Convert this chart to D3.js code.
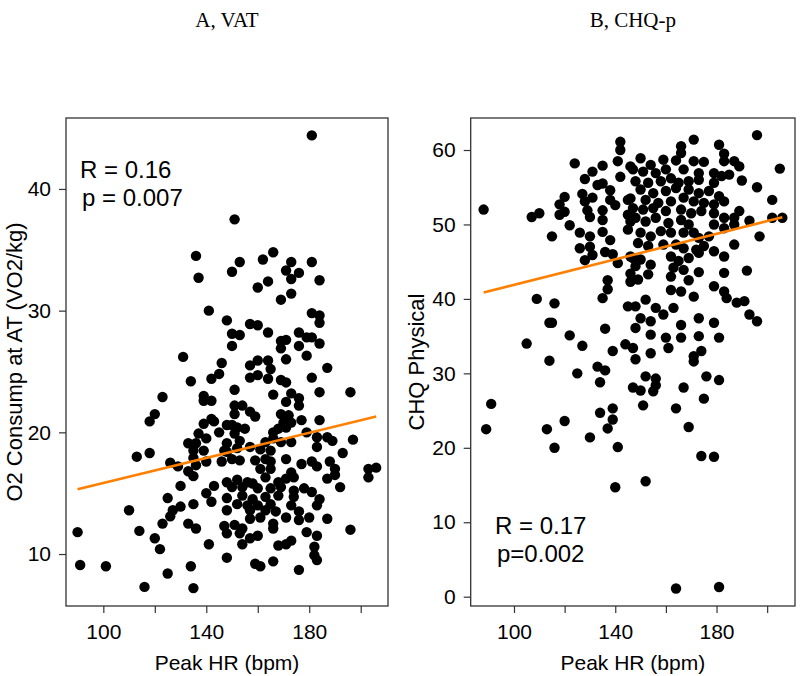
<!DOCTYPE html>
<html><head><meta charset="utf-8">
<script src="https://cdn.jsdelivr.net/npm/d3@7"></script>
<style>body{margin:0;background:#fff}svg{display:block}</style>
</head><body>
<svg id="c" width="800" height="676"></svg>
<script>
// ---------- data ----------
const xTicks = [100, 120, 140, 160, 180, 200];
const xTickLabels = [100, 140, 180];
const aYTicks = [10, 20, 30, 40];
const bYTicks = [0, 10, 20, 30, 40, 50, 60];

const titles = ["A, VAT", "B, CHQ-p"];
const xTitle = "Peak HR (bpm)";
const yTitles = ["O2 Consump at AT (VO2/kg)", "CHQ Physical"];
const statsA = ["R = 0.16", "p = 0.007"];
const statsB = ["R = 0.17", "p=0.002"];

// Panel A: peak HR vs O2 consumption at AT
const aHR = [181,151,136,137,150,153,162,166,160,164,173,171,176,173,181,184,173,169,141,181,184,184,148,157,160,150,153,150,164,176,179,181,184,169,171,169,176,179,131,160,164,171,146,145,142,134,123,139,139,142,120,118,142,139,143,148,137,140,145,133,136,113,118,135,139,148,147,126,129,135,136,140,146,133,135,148,130,143,140,142,125,148,135,130,127,126,110,123,133,136,147,148,114,90,120,122,141,148,91,101,125,134,116,135,
157,165,181,187,157,160,164,169,171,151,166,173,184,196,176,171,176,151,154,151,157,159,169,172,170,173,177,184,150,152,155,166,168,171,179,183,187,189,197,151,153,163,166,169,173,183,193,148,152,157,161,165,150,153,159,163,165,171,177,181,183,188,190,203,206,203,161,165,163,187,190,152,156,158,168,171,174,173,192,150,154,160,165,169,174,178,181,154,158,163,168,174,184,152,156,160,165,173,183,148,157,163,167,176,157,161,171,176,180,187,166,151,154,166,153,179,183,196,157,160,154,168,171,173,182,182,183,159,161,166,176];
const aVO2 = [44.4,37.5,34.5,32.7,33.2,34.0,34.2,34.8,31.9,32.4,34.0,33.3,33.1,32.6,34.0,32.5,31.4,30.9,30.0,29.8,29.6,29.0,29.2,28.9,28.8,28.1,28.0,27.1,28.2,28.2,27.8,27.8,27.3,27.5,27.6,26.9,27.1,26.3,26.2,25.9,25.9,26.0,25.7,24.8,24.4,24.2,22.9,23.0,22.6,22.6,21.5,20.9,21.1,20.7,20.9,20.6,19.9,19.5,20.0,19.1,19.1,18.0,18.3,18.5,18.5,19.1,18.5,17.5,17.2,17.9,17.3,17.6,17.6,16.8,16.4,15.9,15.6,15.6,15.0,14.3,14.6,14.6,14.1,13.9,13.6,13.1,13.6,12.5,12.5,12.1,12.3,11.7,11.9,11.8,11.3,10.4,10.8,9.7,9.1,9.0,8.4,9.0,7.3,7.2,
25.5,25.2,24.5,25.3,24.5,24.7,24.4,24.3,24.1,23.5,23.1,23.2,23.3,23.3,22.8,22.5,22.2,22.2,22.2,21.5,21.7,21.3,21.5,21.4,20.8,20.8,21.0,21.0,20.6,20.4,20.3,20.0,20.3,20.4,20.0,19.6,19.6,19.3,19.4,19.9,19.3,19.2,19.5,19.2,19.2,18.8,18.3,18.4,18.7,18.8,18.6,18.5,17.8,17.7,17.7,17.8,17.6,17.8,17.4,17.6,17.2,17.6,17.0,17.0,17.1,16.3,17.0,17.0,16.3,16.2,16.5,16.1,15.9,15.8,15.9,16.2,16.3,16.7,15.5,15.5,15.5,15.4,15.4,15.5,15.2,15.4,15.1,14.8,14.5,14.7,14.8,14.7,14.5,14.1,14.0,14.0,14.1,14.0,14.0,13.6,13.6,13.6,13.5,13.5,12.9,13.0,13.0,12.8,13.0,12.9,12.5,12.4,12.1,12.1,11.7,11.8,11.5,12.0,11.3,11.5,10.8,10.7,10.8,11.1,10.6,9.9,9.5,9.2,9.0,9.4,8.7];
const aFit = { intercept: 10.69, slope: 0.0515 };

// Panel B: peak HR vs CHQ physical
const bHR = [88,91,89,105,107,110,109,115,114,115,116,114,113,116,120,118,120,120,118,122,122,125,127,126,124,127,128,128,126,128,130,129,130,130,130,131,131,131,133,133,134,134,135,135,135,135,135,136,136,135,137,137,136,137,138,138,138,139,139,139,139,140,141,141,142,140,141,142,142,144,145,145,145,146,146,145,146,146,146,146,
147,151,152,150,152,155,156,156,164,164,167,169,175,174,176,179,181,181,148,171,
166,171,181,196,166,183,187,189,205,150,154,159,164,171,175,183,147,151,156,160,167,173,179,182,185,190,196,148,153,158,162,165,169,173,179,150,155,160,164,169,173,177,181,202,152,157,162,167,171,175,179,183,189,147,151,155,160,166,170,174,179,183,187,193,202,206,148,152,156,161,166,169,179,183,187,150,154,158,162,167,171,173,177,197,149,153,159,164,167,172,175,179,183,187,147,150,154,162,165,169,173,148,163,167,173,183,192,149,153,162,169,179,183,162,166,171,184,188,191,152,148,156,163,193,196,150,154,159,166,173,179,148,154,160,166,173,181,147,154,161,171,174];
const bCHQ = [52.0,25.9,22.5,34.0,51.0,51.5,40.0,48.4,36.8,36.8,39.4,31.7,22.5,20.0,23.6,52.7,53.7,51.7,51.3,49.9,35.1,30.0,33.7,48.9,58.2,54.1,56.1,53.1,46.8,45.2,21.4,51.9,51.0,48.4,47.0,45.9,57.1,53.6,55.3,30.9,28.8,24.7,57.9,55.5,51.9,50.6,49.0,46.3,36.0,40.1,41.3,42.5,30.4,22.6,54.6,53.3,47.9,46.0,33.0,25.3,23.8,14.7,20.1,58.5,56.4,52.6,44.8,60.0,61.1,33.9,53.3,51.3,39.0,53.5,50.4,49.3,45.7,43.4,42.3,57.8,
28.1,25.7,29.6,27.7,15.5,27.6,29.3,28.4,25.3,1.1,28.1,22.8,26.6,18.9,29.6,18.8,29.1,1.3,31.9,31.6,
60.5,61.4,60.7,62.0,59.6,59.5,58.5,57.8,57.5,58.9,58.0,58.7,58.6,58.5,58.4,58.5,57.4,57.1,56.9,57.4,57.4,56.9,56.9,56.5,56.7,55.9,55.0,55.8,55.6,55.8,56.2,55.6,55.8,56.0,55.6,54.7,54.2,54.5,54.9,54.7,54.2,54.5,53.8,53.3,53.3,52.9,53.1,53.6,53.1,52.9,52.7,53.1,51.8,52.2,52.0,52.2,51.8,52.0,51.5,51.8,51.5,50.9,50.9,50.5,50.9,50.9,50.9,50.4,50.9,50.2,50.6,50.0,50.0,49.5,50.0,48.9,48.4,49.1,48.9,48.9,48.9,48.2,48.4,48.4,47.5,47.1,47.3,47.3,46.8,46.6,47.1,46.4,45.7,47.3,45.5,45.3,44.6,45.7,45.1,45.5,46.2,44.4,44.2,43.9,43.6,43.5,43.8,42.6,43.3,43.0,42.5,41.7,41.0,41.2,41.0,40.3,40.1,39.5,39.7,39.9,39.0,38.8,38.8,37.9,37.0,37.4,37.0,37.9,36.5,37.4,36.8,36.1,35.2,34.8,34.8,35.0,34.8,33.4,32.7,33.4,32.3,33.0];
const bFit = { intercept: 33.33, slope: 0.0856 };

// ---------- drawing ----------
const svg = d3.select("#c");
const sans = "'Liberation Sans', Arial, sans-serif";
const serif = "'Liberation Serif', 'Times New Roman', serif";

function panel(cfg) {
  const x = d3.scaleLinear().domain(cfg.xd).range([cfg.l, cfg.r]);
  const y = d3.scaleLinear().domain(cfg.yd).range([cfg.b, cfg.t]);
  const g = svg.append("g");

  g.append("g").selectAll("circle")
    .data(d3.zip(cfg.xs, cfg.ys))
    .join("circle")
    .attr("cx", d => x(d[0])).attr("cy", d => y(d[1]))
    .attr("r", 5.2).attr("fill", "#000");

  const ext = d3.extent(cfg.xs);
  const line = d3.line().x(d => x(d)).y(d => y(cfg.fit.intercept + cfg.fit.slope * d));
  g.append("path").attr("d", line(ext))
    .attr("stroke", "#ff8000").attr("stroke-width", 2.6).attr("fill", "none");

  g.append("rect")
    .attr("x", cfg.l).attr("y", cfg.t)
    .attr("width", cfg.r - cfg.l).attr("height", cfg.b - cfg.t)
    .attr("fill", "none").attr("stroke", "#333").attr("stroke-width", 1.3);

  const xa = d3.axisBottom(x).tickValues(xTicks).tickSize(7).tickPadding(11)
    .tickFormat(d => xTickLabels.includes(d) ? d : "");
  const gx = g.append("g").attr("transform", `translate(0,${cfg.b})`).call(xa);
  gx.select(".domain").remove();
  gx.selectAll("line").attr("stroke", "#333").attr("stroke-width", 1.2);
  gx.selectAll("text").attr("font-family", sans).attr("font-size", 21).attr("fill", "#000");

  const ya = d3.axisLeft(y).tickValues(cfg.yTicks).tickSize(7).tickPadding(8);
  const gy = g.append("g").attr("transform", `translate(${cfg.l},0)`).call(ya);
  gy.select(".domain").remove();
  gy.selectAll("line").attr("stroke", "#333").attr("stroke-width", 1.2);
  gy.selectAll("text").attr("font-family", sans).attr("font-size", 21).attr("fill", "#000");

  g.append("text").attr("x", (cfg.l + cfg.r) / 2).attr("y", 670)
    .attr("text-anchor", "middle").attr("font-family", sans).attr("font-size", 21)
    .text(xTitle);

  g.append("text")
    .attr("transform", `translate(${cfg.yTitleX},${(cfg.t + cfg.b) / 2}) rotate(-90)`)
    .attr("text-anchor", "middle").attr("font-family", sans).attr("font-size", 22)
    .text(cfg.yTitle);

  g.append("text").attr("x", (cfg.l + cfg.r) / 2).attr("y", 27)
    .attr("text-anchor", "middle").attr("font-family", serif).attr("font-size", 21)
    .text(cfg.title);

  cfg.stats.forEach((s, i) => {
    g.append("text").attr("x", cfg.statX[i]).attr("y", cfg.statY[i])
      .attr("font-family", sans).attr("font-size", 24).text(s);
  });
}

panel({
  l: 66, r: 388, t: 118, b: 606,
  xd: [85.5, 210.6], yd: [5.73, 45.83],
  xs: aHR, ys: aVO2, fit: aFit, yTicks: aYTicks,
  yTitle: yTitles[0], yTitleX: 22, title: titles[0],
  stats: statsA, statX: [80, 82], statY: [178, 206]
});
panel({
  l: 470.7, r: 795, t: 118, b: 606,
  xd: [82.9, 211], yd: [-1.25, 64.3],
  xs: bHR, ys: bCHQ, fit: bFit, yTicks: bYTicks,
  yTitle: yTitles[1], yTitleX: 424, title: titles[1],
  stats: statsB, statX: [495, 497], statY: [534, 562]
});
</script>
</body></html>
